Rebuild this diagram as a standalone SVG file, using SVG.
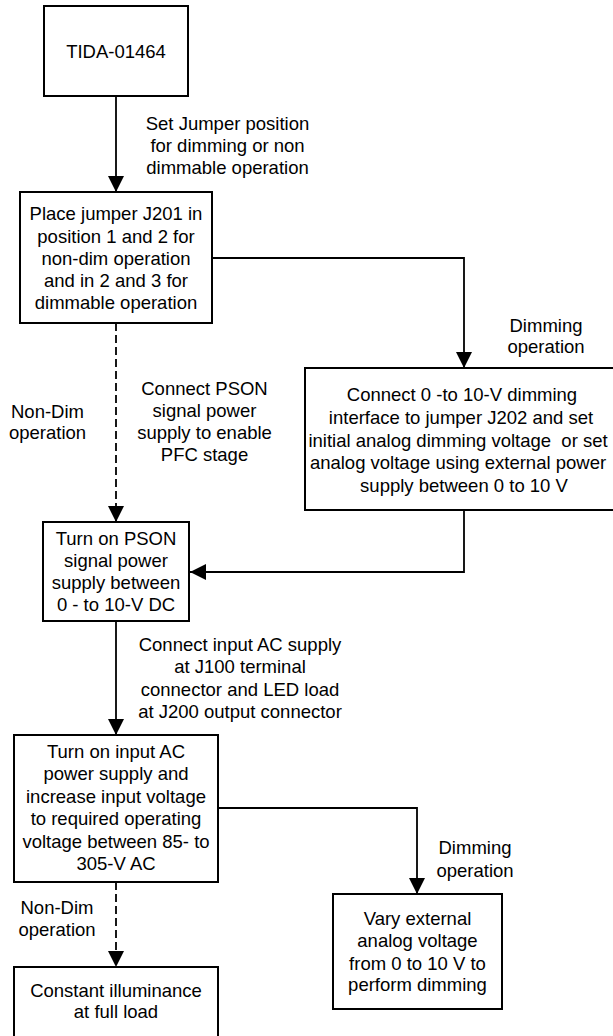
<svg xmlns="http://www.w3.org/2000/svg" width="613" height="1036" viewBox="0 0 613 1036">
<defs>
<marker id="arr" viewBox="0 0 16 16" refX="16" refY="8" markerWidth="16" markerHeight="16" markerUnits="userSpaceOnUse" orient="auto">
<path d="M0,0 L16,8 L0,16 z" fill="#000"/>
</marker>
<style>
.box{fill:#fff;stroke:#000;stroke-width:2}
.t{font-family:"Liberation Sans",Arial,sans-serif;font-size:18.5px;fill:#000;text-anchor:middle;white-space:pre}
.ln{fill:none;stroke:#000;stroke-width:1.8;marker-end:url(#arr)}
.dash{stroke-dasharray:8 4}
</style>
</defs>
<rect width="613" height="1036" fill="#fff"/>
<g id="connectors">
<path class="ln" d="M116,96 V192"/>
<path class="ln" d="M212,258 H464 V368"/>
<path class="ln dash" d="M116,323 V522"/>
<path class="ln" d="M464,510 V572 H190"/>
<path class="ln" d="M116,621 V735"/>
<path class="ln" d="M218,808 H417 V894"/>
<path class="ln dash" d="M116,882 V967"/>
<g id="labels">
<text class="t" x="227.5" y="130">Set Jumper position</text>
<text class="t" x="227.5" y="152">for dimming or non</text>
<text class="t" x="227.5" y="174">dimmable operation</text>
<text class="t" x="546" y="332">Dimming</text>
<text class="t" x="546" y="353">operation</text>
<text class="t" x="204.5" y="395">Connect PSON</text>
<text class="t" x="204.5" y="417">signal power</text>
<text class="t" x="204.5" y="439">supply to enable</text>
<text class="t" x="204.5" y="461">PFC stage</text>
<text class="t" x="47.5" y="418">Non-Dim</text>
<text class="t" x="47.5" y="439">operation</text>
<text class="t" x="240" y="651">Connect input AC supply</text>
<text class="t" x="240" y="673">at J100 terminal</text>
<text class="t" x="240" y="696">connector and LED load</text>
<text class="t" x="240" y="718">at J200 output connector</text>
<text class="t" x="475" y="854">Dimming</text>
<text class="t" x="475" y="877">operation</text>
<text class="t" x="57" y="914">Non-Dim</text>
<text class="t" x="57" y="936">operation</text>
</g>
</g>
<g id="n1">
<rect class="box" x="44" y="6" width="144" height="90"/>
<text class="t" x="116" y="58">TIDA-01464</text>
</g>
<g id="n2">
<rect class="box" x="20" y="192" width="192" height="131"/>
<text class="t" x="116" y="220">Place jumper J201 in</text>
<text class="t" x="116" y="243">position 1 and 2 for</text>
<text class="t" x="116" y="265">non-dim operation</text>
<text class="t" x="116" y="287">and in 2 and 3 for</text>
<text class="t" x="116" y="309">dimmable operation</text>
</g>
<g id="n3">
<rect class="box" x="305" y="368" width="318" height="142"/>
<text class="t" x="462" y="401">Connect 0 -to 10-V dimming</text>
<text class="t" x="461" y="424">interface to jumper J202 and set</text>
<text class="t" x="458" y="447">initial analog dimming voltage  or set</text>
<text class="t" x="458" y="469">analog voltage using external power</text>
<text class="t" x="464" y="492">supply between 0 to 10 V</text>
</g>
<g id="n4">
<rect class="box" x="43" y="522" width="146" height="99"/>
<text class="t" x="116" y="545">Turn on PSON</text>
<text class="t" x="116" y="567">signal power</text>
<text class="t" x="116" y="589">supply between</text>
<text class="t" x="116" y="611">0 - to 10-V DC</text>
</g>
<g id="n5">
<rect class="box" x="14" y="735" width="204" height="147"/>
<text class="t" x="116" y="758">Turn on input AC</text>
<text class="t" x="116" y="780">power supply and</text>
<text class="t" x="116" y="803">increase input voltage</text>
<text class="t" x="116" y="825">to required operating</text>
<text class="t" x="116" y="848">voltage between 85- to</text>
<text class="t" x="116" y="870">305-V AC</text>
</g>
<g id="n6">
<rect class="box" x="14" y="967" width="204" height="90"/>
<text class="t" x="116" y="997">Constant illuminance</text>
<text class="t" x="116" y="1018">at full load</text>
</g>
<g id="n7">
<rect class="box" x="333" y="894" width="169" height="115"/>
<text class="t" x="417.5" y="925">Vary external</text>
<text class="t" x="417.5" y="947">analog voltage</text>
<text class="t" x="417.5" y="970">from 0 to 10 V to</text>
<text class="t" x="417.5" y="991">perform dimming</text>
</g>
</svg>
